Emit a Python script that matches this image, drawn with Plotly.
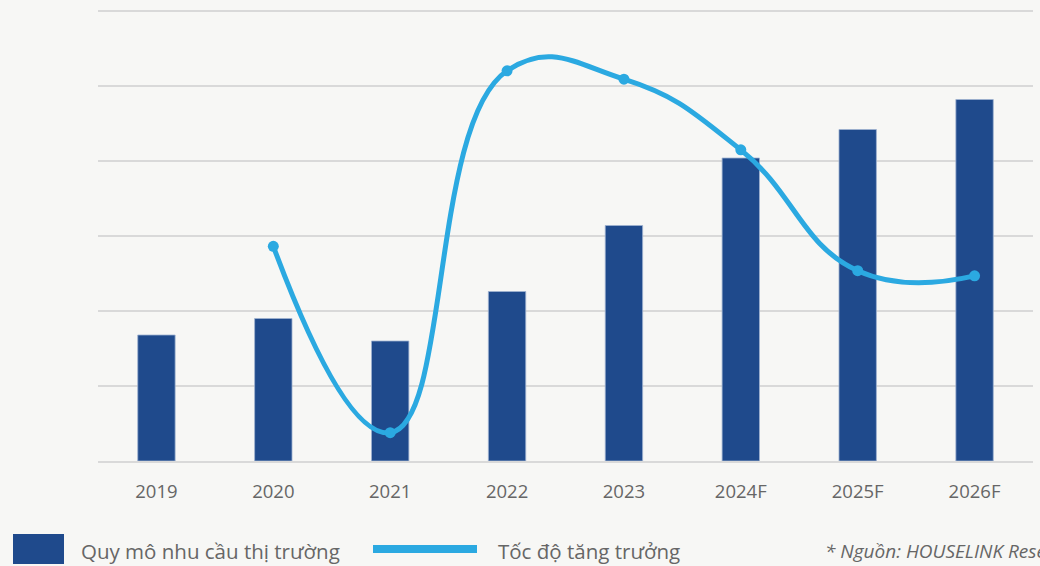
import plotly.graph_objects as go

# Market demand size (bars) and year-over-year growth rate (line, %)
years = ["2019", "2020", "2021", "2022", "2023", "2024F", "2025F", "2026F"]
demand = [84, 95, 80, 113, 157, 202, 221, 241]
growth_years = ["2020", "2021", "2022", "2023", "2024F", "2025F", "2026F"]
growth_pct = [13.4, -15.6, 40.7, 39.4, 28.4, 9.6, 8.8]

BAR_COLOR = "#1f4a8c"
LINE_COLOR = "#2ba9e1"
BG = "#f7f7f5"
GRID = "#d9d9d9"
TEXT = "#666666"
FONT = "Open Sans"

W, H = 1040, 566
M_L, M_R, M_T, M_B = 98, 7, 7, 105
PW = W - M_L - M_R
PH = H - M_T - M_B
Y_TOP = 300 * PH / 450  # top gridline sits a few pixels inside the plot area


def px_x(x):
    return (x - M_L) / PW


def px_y(y):
    return (H - M_B - y) / PH


fig = go.Figure()

fig.add_trace(go.Bar(
    x=years, y=demand, name="Quy mô nhu cầu thị trường",
    marker=dict(color=BAR_COLOR, line=dict(color="#9fb2d0", width=0.8)),
    width=0.32, yaxis="y", showlegend=False,
))

fig.add_trace(go.Scatter(
    x=growth_years, y=growth_pct, name="Tốc độ tăng trưởng",
    mode="lines+markers",
    line=dict(color=LINE_COLOR, width=5, shape="spline", smoothing=1.3),
    marker=dict(color=LINE_COLOR, size=11),
    yaxis="y2", showlegend=False,
))

fig.update_layout(
    width=W, height=H,
    margin=dict(l=M_L, r=M_R, t=M_T, b=M_B),
    paper_bgcolor=BG, plot_bgcolor=BG,
    font=dict(family=FONT, color=TEXT),
    xaxis=dict(
        categoryorder="array", categoryarray=years,
        range=[-0.5, 7.5],
        showgrid=False, zeroline=False,
        showline=True, linecolor=GRID, linewidth=2,
        ticks="", tickfont=dict(size=18.5, color=TEXT, family=FONT),
        ticklabelstandoff=13,
    ),
    yaxis=dict(
        range=[0, Y_TOP], tickvals=[0, 50, 100, 150, 200, 250, 300],
        showgrid=True, gridcolor=GRID, gridwidth=2,
        zeroline=False, showticklabels=False, ticks="",
    ),
    yaxis2=dict(
        range=[-20, -20 + 70 * PH / 450], overlaying="y", side="right",
        showgrid=False, zeroline=False, showticklabels=False, ticks="",
    ),
)

# Legend drawn along the bottom edge
fig.add_shape(type="rect", xref="paper", yref="paper",
              x0=px_x(13), x1=px_x(64), y0=px_y(564), y1=px_y(534),
              fillcolor=BAR_COLOR, line=dict(width=0))
fig.add_annotation(xref="paper", yref="paper", x=px_x(79), y=px_y(551),
                   xanchor="left", yanchor="middle", showarrow=False,
                   text="Quy mô nhu cầu thị trường",
                   font=dict(size=20.5, color=TEXT, family=FONT))
fig.add_shape(type="rect", xref="paper", yref="paper",
              x0=px_x(373), x1=px_x(477), y0=px_y(553), y1=px_y(545),
              fillcolor=LINE_COLOR, line=dict(width=0))
fig.add_annotation(xref="paper", yref="paper", x=px_x(496), y=px_y(551),
                   xanchor="left", yanchor="middle", showarrow=False,
                   text="Tốc độ tăng trưởng",
                   font=dict(size=20.5, color=TEXT, family=FONT))
fig.add_annotation(xref="paper", yref="paper", x=px_x(823), y=px_y(551),
                   xanchor="left", yanchor="middle", showarrow=False,
                   text="<i>* Nguồn: HOUSELINK Research</i>",
                   font=dict(size=19, color=TEXT, family=FONT))

fig.write_html("out.html")
